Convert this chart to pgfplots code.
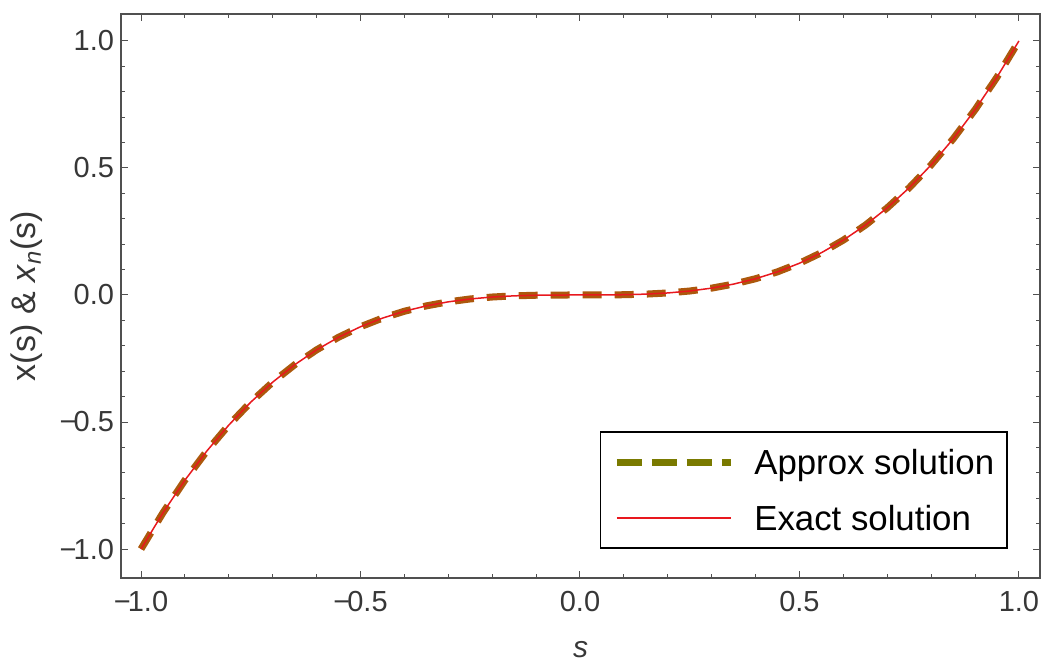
\documentclass[border=0pt]{standalone}
\usepackage{pgfplots}
\pgfplotsset{compat=1.18}
\usepackage{pgfplotstable}
\usepackage{fontspec}
\setmainfont{Liberation Sans}

\definecolor{framegray}{RGB}{80,80,80}
\definecolor{ticklab}{RGB}{55,55,55}
\definecolor{approxc}{RGB}{172,88,12}
\definecolor{olivec}{RGB}{122,122,0}
\definecolor{exactc}{RGB}{232,24,30}

% s, x(s) -- both curves coincide
\pgfplotstableread{
s       x
-1.00  -1.000000
-0.95  -0.857375
-0.90  -0.729000
-0.85  -0.614125
-0.80  -0.512000
-0.75  -0.421875
-0.70  -0.343000
-0.65  -0.274625
-0.60  -0.216000
-0.55  -0.166375
-0.50  -0.125000
-0.45  -0.091125
-0.40  -0.064000
-0.35  -0.042875
-0.30  -0.027000
-0.25  -0.015625
-0.20  -0.008000
-0.15  -0.003375
-0.10  -0.001000
-0.05  -0.000125
 0.00   0.000000
 0.05   0.000125
 0.10   0.001000
 0.15   0.003375
 0.20   0.008000
 0.25   0.015625
 0.30   0.027000
 0.35   0.042875
 0.40   0.064000
 0.45   0.091125
 0.50   0.125000
 0.55   0.166375
 0.60   0.216000
 0.65   0.274625
 0.70   0.343000
 0.75   0.421875
 0.80   0.512000
 0.85   0.614125
 0.90   0.729000
 0.95   0.857375
 1.00   1.000000
}\sol

\newcommand{\mn}{−\kern-1.5bp}

\begin{document}
\begin{tikzpicture}
\begin{axis}[
  name=ax,
  scale only axis,
  width=459.5bp, height=282bp,
  xmin=-1.0456, xmax=1.048,
  ymin=-1.114, ymax=1.106,
  xtick={-1,-0.5,0,0.5,1},
  xticklabels={{\mn 1.0},{\mn 0.5},0.0,0.5,1.0},
  ytick={-1,-0.5,0,0.5,1},
  yticklabels={{\mn 1.0},{\mn 0.5},0.0,0.5,1.0},
  minor x tick num=4, minor y tick num=4,
  tick align=inside,
  major tick length=3.5bp, minor tick length=2bp,
  axis line style={framegray, line width=0.6bp},
  tick style={framegray, line width=0.5bp},
  ticklabel style={font=\fontsize{14.5bp}{17bp}\selectfont, text=ticklab},
  xticklabel style={yshift=-3bp},
  label style={text=ticklab},
  xlabel={\textit{s}},
  ylabel={x(s) \& \textit{x}\textsubscript{\textit{n}}(s)},
  xlabel style={font=\fontsize{15bp}{17bp}\selectfont, at={(axis description cs:0.5,-0.1277)}, anchor=center},
  ylabel style={font=\fontsize{17bp}{19bp}\selectfont, at={(axis description cs:-0.1023,0.5)}, anchor=center},
  legend cell align=left,
  legend image code/.code={\draw[#1] (0bp,0bp) -- (57bp,0bp);},
  legend style={
    at={(rel axis cs:0.9652,0.0514)}, anchor=south east,
    draw=black, line width=0.8bp,
    font=\fontsize{17.4bp}{20bp}\selectfont,
    nodes={inner sep=0pt, text height=14bp, text depth=2bp},
    inner xsep=6.5bp, inner ysep=7bp,
    row sep=12bp, column sep=10bp,
  },
]
\addplot[approxc, line width=3.5bp, dash pattern=on 9.5bp off 6.5bp, forget plot] table[x=s, y=x] {\sol};
\addplot[exactc, line width=0.75bp, forget plot] table[x=s, y=x] {\sol};
\addlegendimage{olivec, line width=3.5bp, dash pattern=on 12.5bp off 5bp}
\addlegendentry{Approx solution}
\addlegendimage{exactc, line width=0.75bp}
\addlegendentry{Exact solution}
\end{axis}
\pgfresetboundingbox
\useasboundingbox ([xshift=-60.5bp,yshift=-43.5bp]ax.south west) rectangle ([xshift=3.5bp,yshift=7bp]ax.north east);
\end{tikzpicture}
\end{document}
